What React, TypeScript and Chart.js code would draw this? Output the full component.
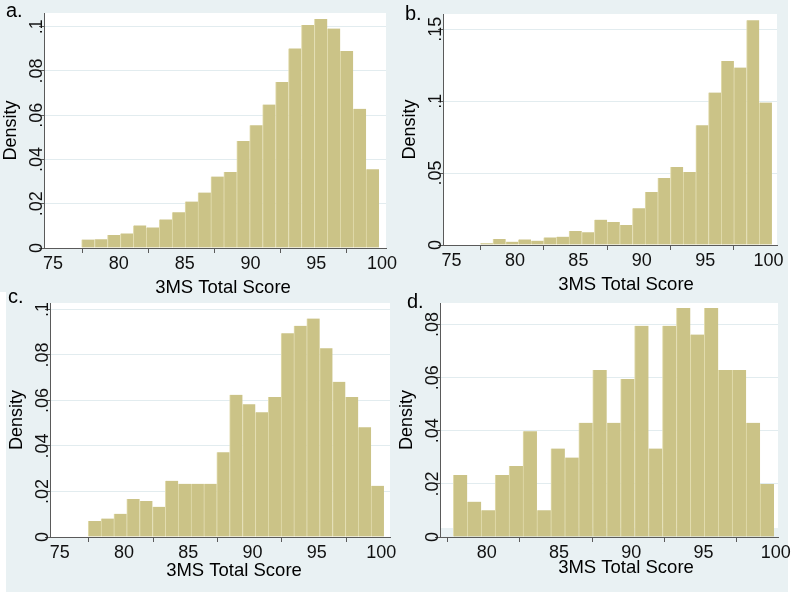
import React, { useEffect, useRef } from "react";
import { Chart, registerables } from "chart.js";

Chart.register(...registerables);

const FONT = "'Liberation Sans', Arial, sans-serif";
const BAR_FILL = "#cbc387";
const BAR_EDGE = "#e2dcae";
const AXIS = "#5a5a5a";
const GRID = "#e2ecef";
const PAGE_BG = "#e9f1f3";

// ---- tick values / labels ----
const xTicks75 = [75, 80, 85, 90, 95, 100];
const xLabels75 = ["75", "80", "85", "90", "95", "100"];
const xTicks80 = [80, 85, 90, 95, 100];
const xLabels80 = ["80", "85", "90", "95", "100"];
const yTicks02 = [0, 0.02, 0.04, 0.06, 0.08, 0.1];
const yLabels02 = ["0", ".02", ".04", ".06", ".08", ".1"];
const yTicks05 = [0, 0.05, 0.1, 0.15];
const yLabels05 = ["0", ".05", ".1", ".15"];
const yTicksD = [0, 0.02, 0.04, 0.06, 0.08];
const yLabelsD = ["0", ".02", ".04", ".06", ".08"];

// ---- histogram densities (23 bins each) ----
const densityA = [0.0038, 0.004, 0.0059, 0.0066, 0.0102, 0.0093, 0.0129, 0.0162, 0.021, 0.0251, 0.0323, 0.0344, 0.0484, 0.0555, 0.0648, 0.075, 0.0902, 0.1008, 0.1035, 0.0992, 0.089, 0.0629, 0.0356];
const densityB = [0.0012, 0.0042, 0.0023, 0.0039, 0.003, 0.0053, 0.0058, 0.0097, 0.0088, 0.0176, 0.016, 0.0139, 0.0255, 0.0368, 0.0465, 0.0542, 0.0507, 0.0833, 0.106, 0.128, 0.1234, 0.1563, 0.0991];
const densityC = [0.007, 0.0081, 0.0102, 0.0167, 0.0158, 0.0133, 0.0247, 0.0234, 0.0234, 0.0234, 0.0372, 0.0625, 0.0583, 0.0548, 0.0615, 0.0895, 0.0928, 0.096, 0.0829, 0.0682, 0.0615, 0.0482, 0.0225];
const densityD = [0.0233, 0.0133, 0.0101, 0.0233, 0.0267, 0.0398, 0.0101, 0.0333, 0.0299, 0.043, 0.0629, 0.043, 0.0595, 0.0795, 0.0333, 0.0795, 0.0862, 0.0762, 0.0862, 0.0629, 0.0629, 0.043, 0.02];

// bin definitions (start of first bin, bin width)
const binsA = { start: 77.4, width: 0.9826 };
const binsB = { start: 77.5, width: 1 };
const binsC = { start: 77.45, width: 1 };
const binsD = { start: 77.9, width: 0.965 };

type Panel = {
  letter: string;
  data: number[];
  bins: { start: number; width: number };
  xMin: number; xMax: number; xTicks: number[]; xLabels: string[];
  yMax: number; yTicks: number[]; yLabels: string[];
  canvas: { left: number; top: number; width: number; height: number };
  area: { left: number; top: number; right: number; bottom: number };
  xTitle: { x: number; y: number };
  whiteInset: number;
  letterPos: { x: number; baseline: number };
};

const panels: Panel[] = [
  {
    letter: "a.", data: densityA, bins: binsA,
    xMin: 74.54, xMax: 100.53, xTicks: xTicks75, xLabels: xLabels75,
    yMax: 0.1062, yTicks: yTicks02, yLabels: yLabels02,
    canvas: { left: 0, top: 0, width: 404, height: 297 },
    area: { left: 44, top: 13, right: 386, bottom: 248 },
    xTitle: { x: 223, y: 293 }, whiteInset: 0,
    letterPos: { x: 6, baseline: 17 },
  },
  {
    letter: "b.", data: densityB, bins: binsB,
    xMin: 74.56, xMax: 100.9, xTicks: xTicks75, xLabels: xLabels75,
    yMax: 0.1606, yTicks: yTicks05, yLabels: yLabels05,
    canvas: { left: 399, top: 0, width: 401, height: 294 },
    area: { left: 443, top: 14, right: 777, bottom: 245 },
    xTitle: { x: 626, y: 290 }, whiteInset: 0,
    letterPos: { x: 405, baseline: 20 },
  },
  {
    letter: "c.", data: densityC, bins: binsC,
    xMin: 74.48, xMax: 100.92, xTicks: xTicks75, xLabels: xLabels75,
    yMax: 0.1028, yTicks: yTicks02, yLabels: yLabels02,
    canvas: { left: 6, top: 290, width: 404, height: 290 },
    area: { left: 50, top: 303, right: 390, bottom: 537 },
    xTitle: { x: 234, y: 576 }, whiteInset: 0,
    letterPos: { x: 8, baseline: 303 },
  },
  {
    letter: "d.", data: densityD, bins: binsD,
    xMin: 76.98, xMax: 100.37, xTicks: xTicks80, xLabels: xLabels80,
    yMax: 0.0881, yTicks: yTicksD, yLabels: yLabelsD,
    canvas: { left: 396, top: 290, width: 404, height: 287 },
    area: { left: 440, top: 303, right: 778, bottom: 537 },
    xTitle: { x: 626, y: 573 }, whiteInset: 9,
    letterPos: { x: 407, baseline: 308 },
  },
];

const decorPlugin = {
  id: "panelDecor",
  beforeDraw(chart: any, _args: any, opts: any) {
    const { ctx, chartArea } = chart;
    ctx.save();
    ctx.fillStyle = "#ffffff";
    ctx.fillRect(
      chartArea.left,
      chartArea.top,
      chartArea.right - chartArea.left,
      chartArea.bottom - chartArea.top - (opts.whiteInset || 0)
    );
    ctx.restore();
  },
  afterDraw(chart: any, _args: any, opts: any) {
    const { ctx, chartArea } = chart;
    const y = chart.scales.y;
    ctx.save();
    ctx.fillStyle = "#111";
    ctx.font = `18px ${FONT}`;
    ctx.textAlign = "center";
    ctx.textBaseline = "alphabetic";
    (opts.yTicks as number[]).forEach((v, i) => {
      const py = y.getPixelForValue(v);
      ctx.save();
      ctx.translate(chartArea.left - 2, py);
      ctx.rotate(-Math.PI / 2);
      ctx.fillText(opts.yLabels[i], 0, 0);
      ctx.restore();
    });
    ctx.fillStyle = "#000";
    ctx.font = `18.5px ${FONT}`;
    ctx.fillText("3MS Total Score", opts.titleX, opts.titleY);
    ctx.restore();
  },
};

function buildChart(canvas: HTMLCanvasElement, p: Panel) {
  const yW = p.area.left - p.canvas.left;
  const xH = p.canvas.top + p.canvas.height - p.area.bottom;
  const padTop = p.area.top - p.canvas.top;
  const padRight = p.canvas.left + p.canvas.width - p.area.right;
  const points = p.data.map((v, i) => ({ x: p.bins.start + (i + 0.5) * p.bins.width, y: v }));
  return new Chart(canvas, {
    type: "bar",
    data: {
      datasets: [
        {
          data: points as any,
          backgroundColor: BAR_FILL,
          borderColor: BAR_EDGE,
          borderWidth: { left: 1, right: 0, top: 0, bottom: 0 } as any,
          borderSkipped: false as any,
          barPercentage: 1,
          categoryPercentage: 1,
        },
      ],
    },
    options: {
      responsive: false,
      animation: false,
      devicePixelRatio: 1,
      layout: { padding: { top: padTop, right: padRight, left: 0, bottom: 0 } },
      plugins: {
        legend: { display: false },
        tooltip: { enabled: false },
        panelDecor: {
          whiteInset: p.whiteInset,
          yTicks: p.yTicks,
          yLabels: p.yLabels,
          titleX: p.xTitle.x - p.canvas.left,
          titleY: p.xTitle.y - p.canvas.top,
        },
      } as any,
      scales: {
        x: {
          type: "linear",
          min: p.xMin,
          max: p.xMax,
          offset: false,
          afterBuildTicks: (s: any) => {
            s.ticks = p.xTicks.map((v) => ({ value: v }));
          },
          afterFit: (s: any) => {
            s.height = xH;
          },
          ticks: {
            callback: (v: any) => p.xLabels[p.xTicks.indexOf(Number(v))],
            font: { family: FONT, size: 18 },
            color: "#111",
            padding: 0,
            maxRotation: 0,
            minRotation: 0,
            autoSkip: false,
            labelOffset: 3,
          },
          grid: { drawOnChartArea: false, drawTicks: true, tickLength: 5, tickColor: AXIS, tickWidth: 1 },
          border: { display: true, color: AXIS, width: 1 },
        },
        y: {
          type: "linear",
          min: 0,
          max: p.yMax,
          afterBuildTicks: (s: any) => {
            s.ticks = p.yTicks.map((v) => ({ value: v }));
          },
          afterFit: (s: any) => {
            s.width = yW;
          },
          ticks: { display: false },
          grid: { color: GRID, lineWidth: 1, drawTicks: true, tickLength: 5, tickColor: AXIS, tickWidth: 1 },
          border: { display: true, color: AXIS, width: 1 },
          title: {
            display: true,
            text: "Density",
            font: { family: FONT, size: 18 },
            color: "#000",
            padding: 0,
          },
        },
      } as any,
    },
    plugins: [decorPlugin as any],
  });
}

function PanelChart({ p }: { p: Panel }) {
  const ref = useRef<HTMLCanvasElement | null>(null);
  useEffect(() => {
    if (!ref.current) return;
    const chart = buildChart(ref.current, p);
    return () => chart.destroy();
  }, [p]);
  return (
    <>
      <canvas
        ref={ref}
        width={p.canvas.width}
        height={p.canvas.height}
        style={{
          position: "absolute",
          left: p.canvas.left,
          top: p.canvas.top,
          width: p.canvas.width,
          height: p.canvas.height,
        }}
      />
      <span
        style={{
          position: "absolute",
          left: p.letterPos.x,
          top: p.letterPos.baseline - 17,
          fontFamily: FONT,
          fontSize: 20,
          lineHeight: "20px",
          color: "#000",
        }}
      >
        {p.letter}
      </span>
    </>
  );
}

export default function App() {
  return (
    <div
      style={{
        position: "fixed",
        left: 0,
        top: 0,
        width: 800,
        height: 592,
        background: PAGE_BG,
        overflow: "hidden",
      }}
    >
      <div style={{ position: "absolute", left: 788, top: 0, width: 12, height: 592, background: "#fff" }} />
      <div style={{ position: "absolute", left: 0, top: 292, width: 6, height: 300, background: "#fff" }} />
      {panels.map((p) => (
        <PanelChart key={p.letter} p={p} />
      ))}
    </div>
  );
}
